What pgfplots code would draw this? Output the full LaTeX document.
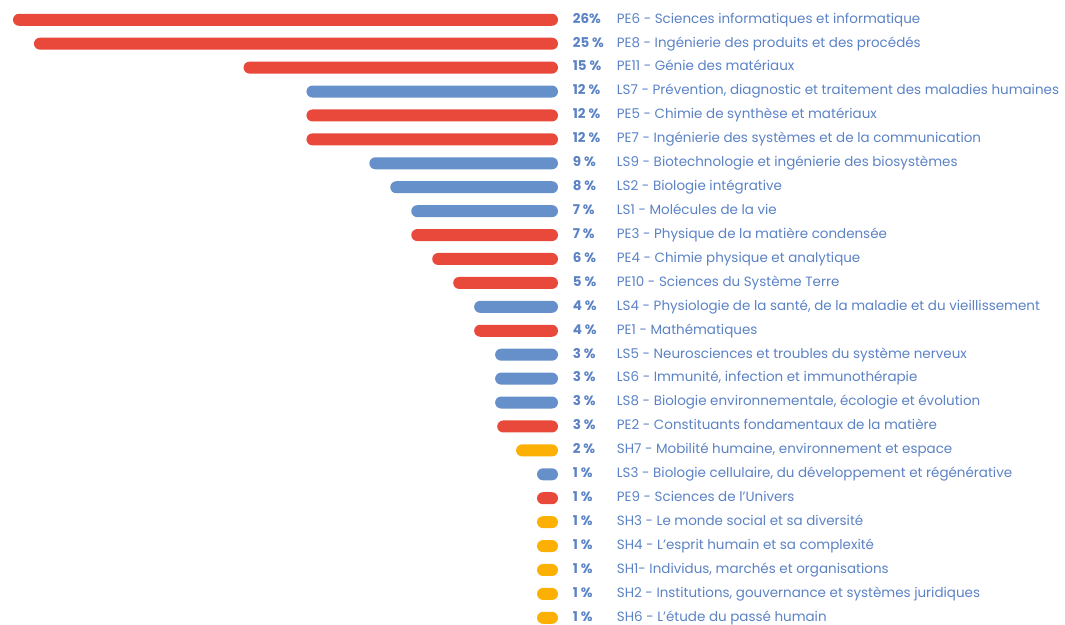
\documentclass[border=0pt]{standalone}
\usepackage{pgfplots}
\usepackage{pgfplotstable}
\usepackage{fontspec}
\setmainfont{Poppins}
\pgfplotsset{compat=1.18}

\definecolor{redbar}{HTML}{E8493A}
\definecolor{bluebar}{HTML}{6690CA}
\definecolor{yellowbar}{HTML}{FDB004}
\definecolor{txt}{HTML}{5B82C5}

% row index, share in percent
\pgfplotstableread{
row val
0 26
1 25
2 15
4 12
5 12
9 7
10 6
11 5
13 4
17 2.9
20 1
}\pe
\pgfplotstableread{
row val
3 12
6 9
7 8
8 7
12 4
14 3
15 3
16 3
19 1
}\ls
\pgfplotstableread{
row val
18 2
21 1
22 1
23 1
24 1
25 1
}\sh

\newcommand{\lab}[2]{\makebox[33pt][l]{\bfseries #1}#2}

\begin{document}
\begin{tikzpicture}
\useasboundingbox (0,0) rectangle (798.75pt,468.75pt);
\begin{axis}[
    at={(0pt,462.9pt)}, anchor=north west,
    scale only axis,
    width=418.5pt, height=466.5pt,
    xbar, bar width=9pt, bar shift=0pt,
    x dir=reverse, y dir=reverse,
    xmin=0, xmax=26.62,
    ymin=-0.5, ymax=25.5,
    axis line style={draw=none},
    major tick length=0pt,
    xtick=\empty,
    ytick={0,...,25},
    yticklabel pos=right,
    yticklabel style={anchor=west, inner sep=0pt, xshift=11pt,
        text height=7.2pt, text depth=2.2pt,
        text=txt, font=\fontsize{10.1}{12}\selectfont},
    yticklabels={
        {\lab{26\%}{PE6 - Sciences informatiques et informatique}},
        {\lab{25 \%}{PE8 - Ingénierie des produits et des procédés}},
        {\lab{15 \%}{PE11 - Génie des matériaux}},
        {\lab{12 \%}{LS7 - Prévention, diagnostic et traitement des maladies humaines}},
        {\lab{12 \%}{PE5 - Chimie de synthèse et matériaux}},
        {\lab{12 \%}{PE7 - Ingénierie des systèmes et de la communication}},
        {\lab{9 \%}{LS9 - Biotechnologie et ingénierie des biosystèmes}},
        {\lab{8 \%}{LS2 - Biologie intégrative}},
        {\lab{7 \%}{LS1 - Molécules de la vie}},
        {\lab{7 \%}{PE3 - Physique de la matière condensée}},
        {\lab{6 \%}{PE4 - Chimie physique et analytique}},
        {\lab{5 \%}{PE10 - Sciences du Système Terre}},
        {\lab{4 \%}{LS4 - Physiologie de la santé, de la maladie et du vieillissement}},
        {\lab{4 \%}{PE1 - Mathématiques}},
        {\lab{3 \%}{LS5 - Neurosciences et troubles du système nerveux}},
        {\lab{3 \%}{LS6 - Immunité, infection et immunothérapie}},
        {\lab{3 \%}{LS8 - Biologie environnementale, écologie et évolution}},
        {\lab{3 \%}{PE2 - Constituants fondamentaux de la matière}},
        {\lab{2 \%}{SH7 - Mobilité humaine, environnement et espace}},
        {\lab{1 \%}{LS3 - Biologie cellulaire, du développement et régénérative}},
        {\lab{1 \%}{PE9 - Sciences de l'Univers}},
        {\lab{1 \%}{SH3 - Le monde social et sa diversité}},
        {\lab{1 \%}{SH4 - L'esprit humain et sa complexité}},
        {\lab{1 \%}{SH1- Individus, marchés et organisations}},
        {\lab{1 \%}{SH2 - Institutions, gouvernance et systèmes juridiques}},
        {\lab{1 \%}{SH6 - L'étude du passé humain}},
    },
    every axis plot/.append style={draw=none, rounded corners=4.5pt},
]
\addplot[fill=redbar] table[x=val, y=row] {\pe};
\addplot[fill=bluebar] table[x=val, y=row] {\ls};
\addplot[fill=yellowbar] table[x=val, y=row] {\sh};
\end{axis}
\end{tikzpicture}
\end{document}
